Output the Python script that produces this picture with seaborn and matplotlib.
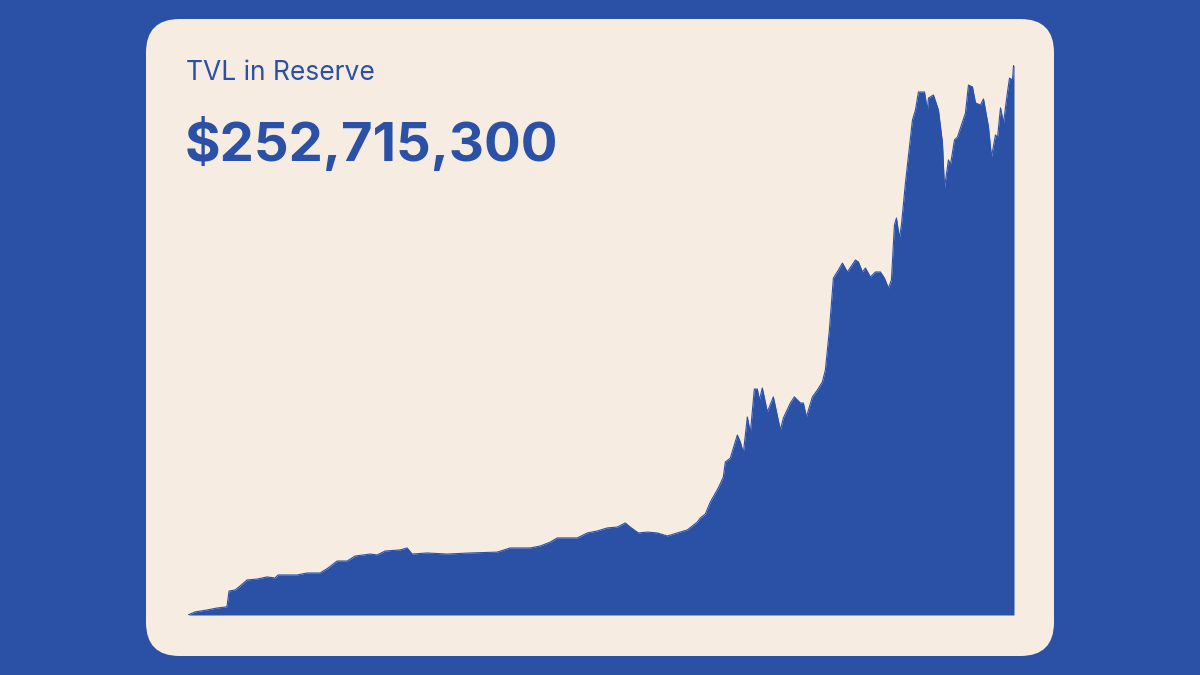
import matplotlib
matplotlib.use("Agg")
import matplotlib.pyplot as plt
import seaborn as sns
import pandas as pd
from matplotlib.patches import FancyBboxPatch

# ---- data (TVL in $M) ----
days = [0, 7, 19, 29, 38, 39, 41, 47, 52, 59, 69, 79, 87, 90, 109, 119, 132, 140, 149, 159,
        167, 182, 189, 197, 212, 219, 224, 239, 259, 282, 309, 322, 342, 352, 362, 369, 389,
        399, 409, 419, 429, 437, 442, 450, 459, 469, 479, 489, 499, 509, 512, 517, 522, 530,
        535, 537, 542, 549, 552, 555, 559, 562, 566, 569, 571, 574, 579, 585, 592, 595, 602,
        606, 612, 615, 618, 624, 629, 634, 637, 641, 645, 650, 654, 659, 667, 670, 674, 677,
        682, 687, 692, 696, 700, 703, 706, 708, 711, 713, 717, 724, 727, 730, 736, 739, 740,
        745, 750, 754, 756, 760, 762, 766, 769, 774, 777, 780, 784, 787, 792, 795, 797, 800,
        803, 807, 809, 812, 815, 819, 821, 824, 825, 825.5]
tvl = [0.0, 1.4, 2.3, 3.2, 3.7, 4.1, 11.0, 11.5, 13.3, 16.1, 16.5, 17.5, 17.0, 18.4, 18.4,
       19.3, 19.3, 21.6, 24.8, 24.8, 27.1, 28.0, 27.6, 29.4, 29.9, 30.8, 28.0, 28.5, 28.0,
       28.5, 28.9, 30.8, 30.8, 31.7, 33.5, 35.4, 35.4, 37.7, 38.6, 40.0, 40.4, 42.3, 40.4,
       37.7, 38.1, 37.7, 36.3, 37.7, 39.1, 42.7, 44.6, 46.4, 51.9, 58.4, 63.4, 70.3, 72.1,
       82.7, 79.5, 74.4, 91.0, 83.6, 103.8, 103.8, 98.8, 104.3, 93.3, 100.2, 85.0, 90.5,
       97.4, 100.2, 97.4, 97.4, 91.0, 100.2, 103.4, 107.1, 112.6, 131.0, 154.8, 158.5, 161.7,
       157.6, 163.1, 162.2, 157.6, 159.4, 155.3, 157.6, 157.6, 154.8, 150.2, 153.9, 179.2,
       182.4, 173.2, 179.2, 198.5, 227.4, 232.0, 240.3, 240.3, 232.0, 237.5, 238.9, 232.0,
       216.9, 196.2, 209.1, 206.8, 218.3, 219.6, 226.5, 230.7, 243.5, 242.6, 235.3, 234.3,
       237.1, 232.0, 224.2, 210.4, 220.6, 219.2, 233.0, 226.1, 240.3, 246.7, 245.8, 252.3,
       252.7]
title = "TVL in Reserve"
headline = "$252,715,300"

df = pd.DataFrame({"day": days, "tvl": tvl})

BLUE = "#2A51A6"
CREAM = "#F7ECE1"

sns.set_theme(style="white")
plt.rcParams["font.family"] = ["Inter", "DejaVu Sans"]

W, H = 1200, 675
fig = plt.figure(figsize=(12, 6.75), dpi=100, facecolor=BLUE)

# card
card = FancyBboxPatch((146 / W, 1 - 656 / H), (1054 - 146) / W, (656 - 19) / H,
                      boxstyle="round,pad=0,rounding_size=0.028",
                      transform=fig.transFigure, facecolor=CREAM, edgecolor="none",
                      mutation_aspect=W / H, zorder=-1)
fig.patches.append(card)

ax = fig.add_axes([188 / W, 1 - 615 / H, (1014 - 188) / W, (615 - 65) / H])
ax.set_zorder(2)
ax.set_facecolor("none")
ax.fill_between(df["day"], df["tvl"], 0, color=BLUE, linewidth=0, zorder=2)
sns.lineplot(data=df, x="day", y="tvl", ax=ax, color=BLUE, linewidth=0.8, zorder=4)
ax.set_xlim(0, 825.5)
ax.set_ylim(0, 252.7)
ax.axis("off")

fig.text(186 / W, 1 - 80 / H, title, color=BLUE, fontsize=19, va="baseline", ha="left",
         zorder=3)
fig.text(185 / W, 1 - 161 / H, headline, color=BLUE, fontsize=39.2, fontweight="bold",
         va="baseline", ha="left", zorder=3)

fig.savefig("out.png", dpi=100, facecolor=BLUE)
